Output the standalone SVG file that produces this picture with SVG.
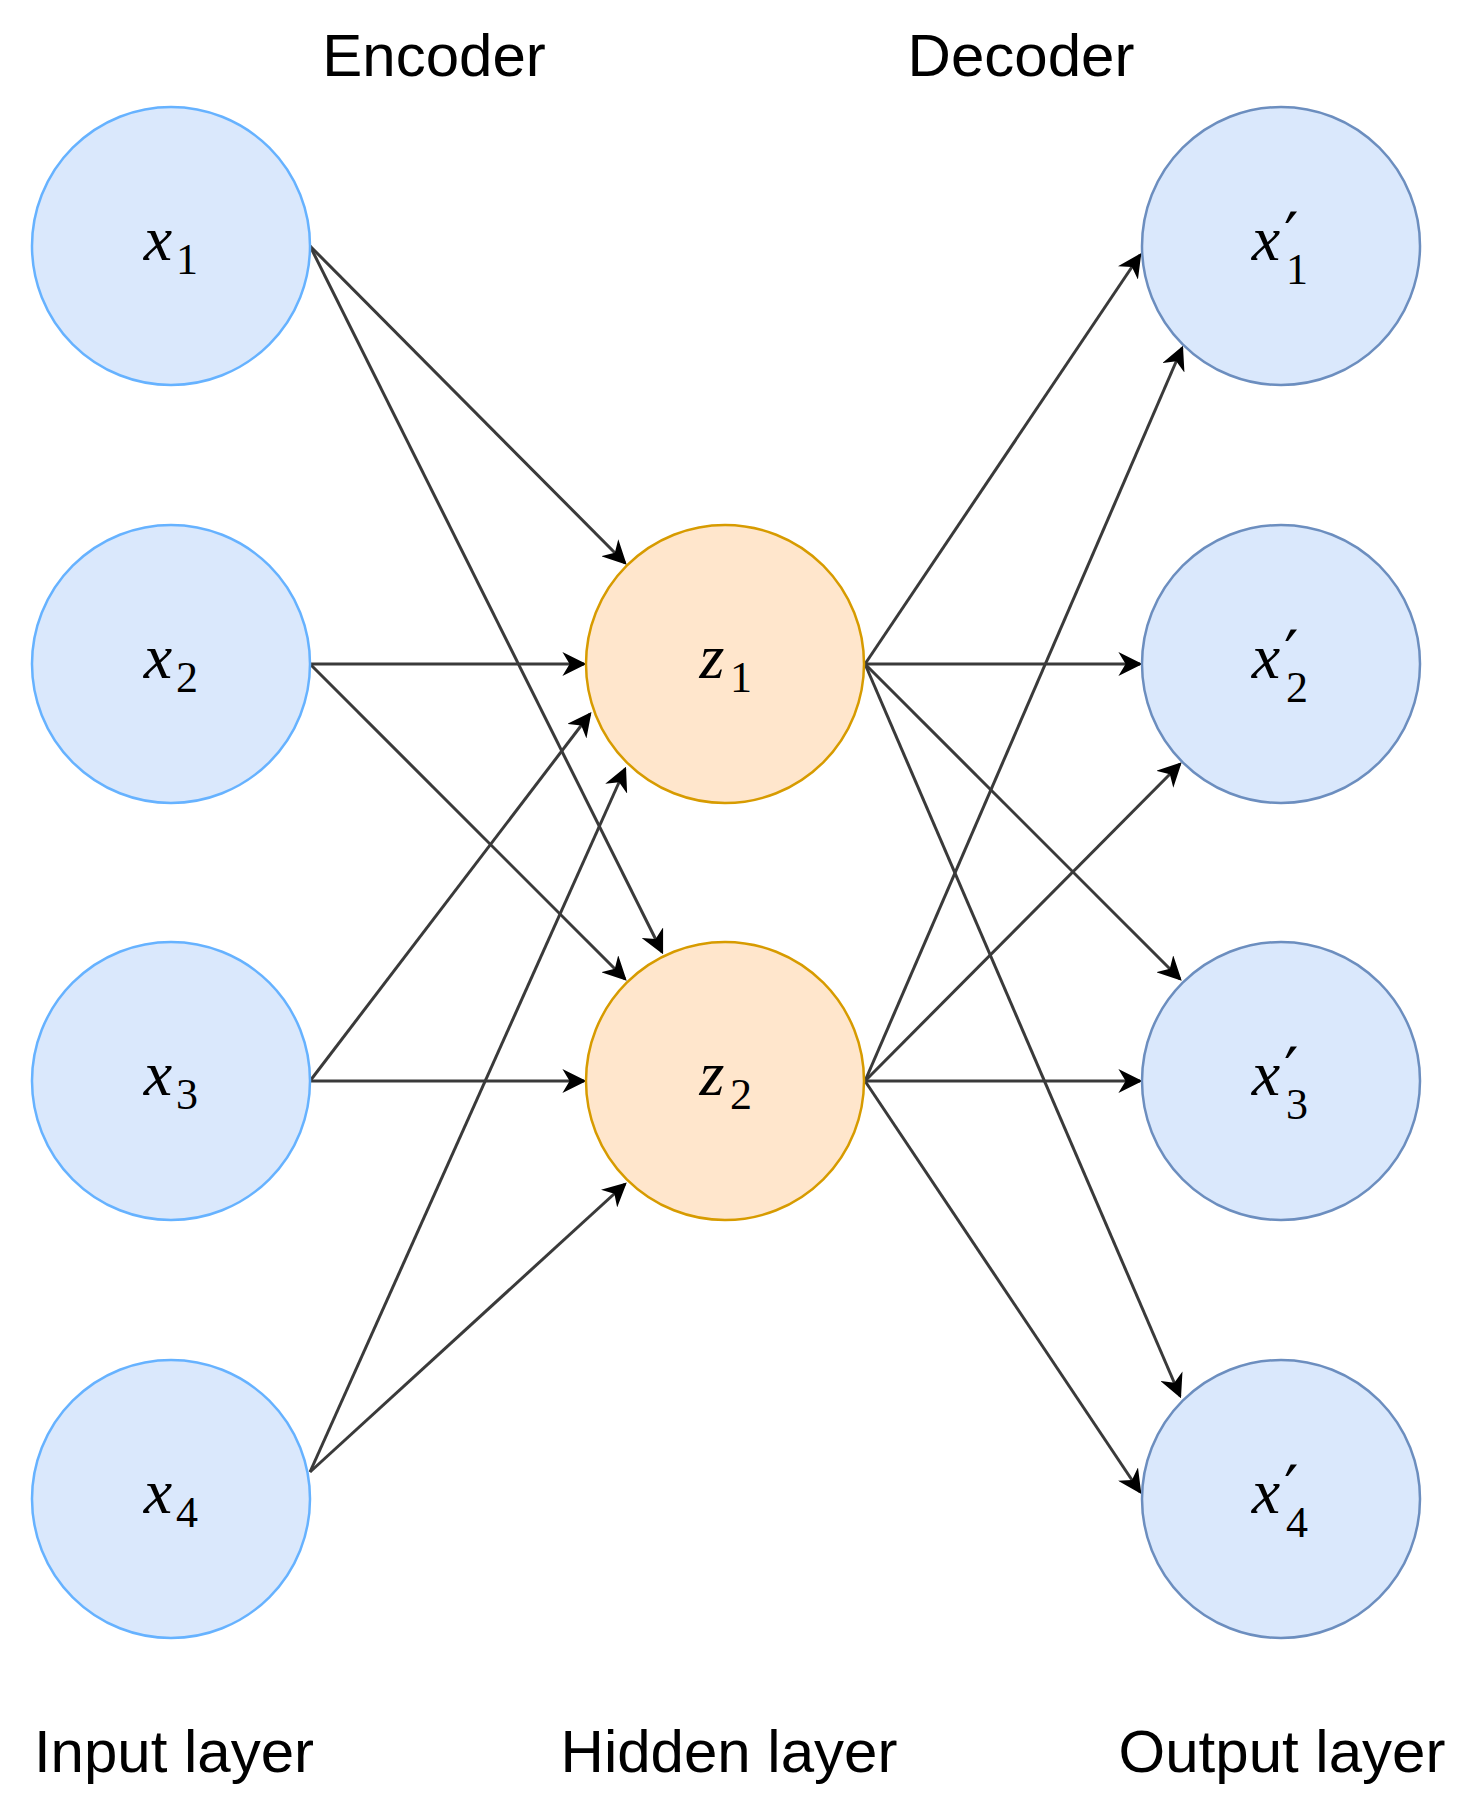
<svg xmlns="http://www.w3.org/2000/svg" width="1476" height="1817" viewBox="0 0 1476 1817">
<style>
.in{fill:#dae8fc;stroke:#66b2ff;stroke-width:2.5}
.out{fill:#dae8fc;stroke:#6c8ebf;stroke-width:2.5}
.hid{fill:#ffe6cc;stroke:#d79b00;stroke-width:2.5}
.lbl{font-family:"Liberation Sans",Arial,sans-serif;font-size:60px;fill:#000;text-anchor:middle}
.m{font-family:"Liberation Serif","DejaVu Serif",serif;font-size:64px;font-style:italic;fill:#000;text-anchor:middle}
.s{font-family:"Liberation Serif","DejaVu Serif",serif;font-size:44px;fill:#000}
.p{font-family:"DejaVu Sans",sans-serif;font-size:64px;fill:#000}
.e{stroke:#3a3a3a;stroke-width:3;fill:none;marker-end:url(#a)}
</style>
<defs><marker id="a" viewBox="0 0 10 10" refX="9" refY="5" markerWidth="8" markerHeight="8" orient="auto"><path d="M0,0 L10,5 L0,10 L3,5 Z" fill="#000"/></marker></defs>
<g id="connectors">
<line class="e" x1="310" y1="246" x2="625" y2="563"/>
<line class="e" x1="310" y1="246" x2="662" y2="952"/>
<line class="e" x1="310" y1="664" x2="584" y2="664"/>
<line class="e" x1="310" y1="664" x2="625" y2="979"/>
<line class="e" x1="310" y1="1081" x2="590" y2="714"/>
<line class="e" x1="310" y1="1081" x2="584" y2="1081"/>
<line class="e" x1="310" y1="1472" x2="625" y2="769"/>
<line class="e" x1="310" y1="1472" x2="625" y2="1184"/>
<line class="e" x1="865" y1="664" x2="1140" y2="255"/>
<line class="e" x1="865" y1="1081" x2="1182" y2="348"/>
<line class="e" x1="865" y1="664" x2="1140" y2="664"/>
<line class="e" x1="865" y1="1081" x2="1180" y2="764"/>
<line class="e" x1="865" y1="664" x2="1180" y2="979"/>
<line class="e" x1="865" y1="1081" x2="1140" y2="1081"/>
<line class="e" x1="865" y1="664" x2="1180" y2="1396"/>
<line class="e" x1="865" y1="1081" x2="1140" y2="1492"/>
</g>
<g id="x1"><circle class="in" cx="171" cy="246" r="139"/><text class="m" x="158" y="260">x</text><text class="s" x="176" y="274">1</text></g>
<g id="x2"><circle class="in" cx="171" cy="664" r="139"/><text class="m" x="158" y="678">x</text><text class="s" x="176" y="692">2</text></g>
<g id="x3"><circle class="in" cx="171" cy="1081" r="139"/><text class="m" x="158" y="1095">x</text><text class="s" x="176" y="1109">3</text></g>
<g id="x4"><circle class="in" cx="171" cy="1499" r="139"/><text class="m" x="158" y="1513">x</text><text class="s" x="176" y="1527">4</text></g>
<g id="z1"><circle class="hid" cx="725" cy="664" r="139"/><text class="m" x="712" y="678">z</text><text class="s" x="730" y="692">1</text></g>
<g id="z2"><circle class="hid" cx="725" cy="1081" r="139"/><text class="m" x="712" y="1095">z</text><text class="s" x="730" y="1109">2</text></g>
<g id="o1"><circle class="out" cx="1281" cy="246" r="139"/><text class="m" x="1266" y="260">x</text><text class="p" x="1284" y="258">′</text><text class="s" x="1286" y="284">1</text></g>
<g id="o2"><circle class="out" cx="1281" cy="664" r="139"/><text class="m" x="1266" y="678">x</text><text class="p" x="1284" y="676">′</text><text class="s" x="1286" y="702">2</text></g>
<g id="o3"><circle class="out" cx="1281" cy="1081" r="139"/><text class="m" x="1266" y="1095">x</text><text class="p" x="1284" y="1093">′</text><text class="s" x="1286" y="1119">3</text></g>
<g id="o4"><circle class="out" cx="1281" cy="1499" r="139"/><text class="m" x="1266" y="1513">x</text><text class="p" x="1284" y="1511">′</text><text class="s" x="1286" y="1537">4</text></g>
<g id="labels">
<text class="lbl" x="434" y="76">Encoder</text>
<text class="lbl" x="1021" y="76">Decoder</text>
<text class="lbl" x="174" y="1772">Input layer</text>
<text class="lbl" x="729" y="1772">Hidden layer</text>
<text class="lbl" x="1282" y="1772">Output layer</text>
</g>
</svg>
